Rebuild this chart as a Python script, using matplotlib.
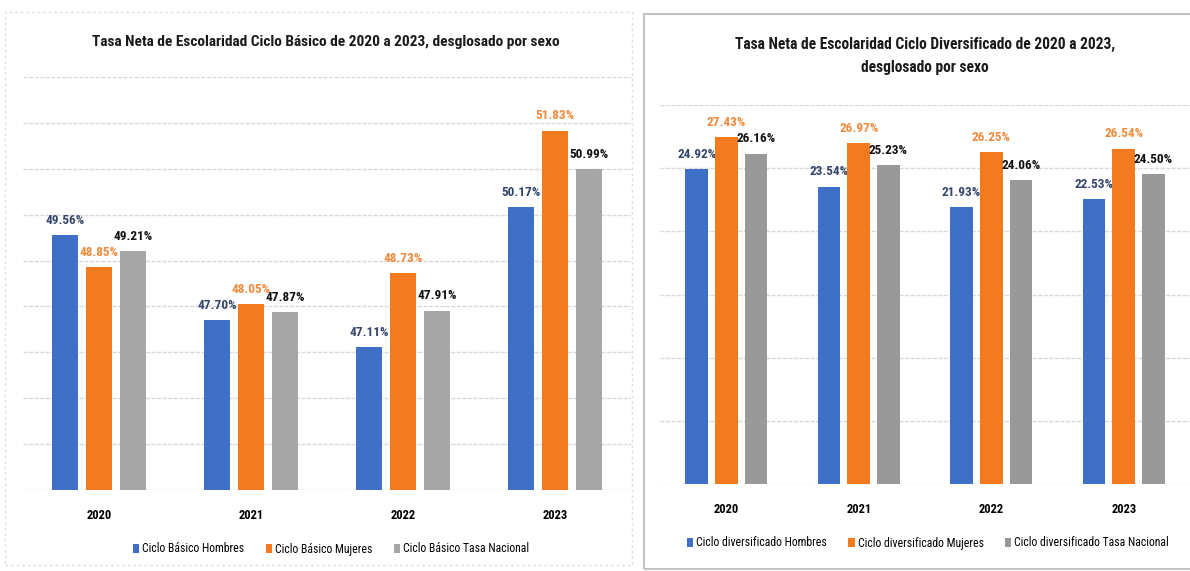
import numpy as np
import matplotlib
matplotlib.use("Agg")
import matplotlib.pyplot as plt
from matplotlib import font_manager
from matplotlib.patches import Rectangle

years = ["2020", "2021", "2022", "2023"]

basico_hombres = [49.56, 47.70, 47.11, 50.17]
basico_mujeres = [48.85, 48.05, 48.73, 51.83]
basico_nacional = [49.21, 47.87, 47.91, 50.99]

div_hombres = [24.92, 23.54, 21.93, 22.53]
div_mujeres = [27.43, 26.97, 26.25, 26.54]
div_nacional = [26.16, 25.23, 24.06, 24.50]

# narrow font if there is one, Lato otherwise
names = set(f.name for f in font_manager.fontManager.ttflist)
fam = "Lato"
for cand in ["Liberation Sans Narrow", "Arial Narrow", "Roboto Condensed", "Open Sans Condensed"]:
    if cand in names:
        fam = cand
        break
plt.rcParams["font.family"] = [fam, "DejaVu Sans"]

BLUE = "#3F6FC6"
ORANGE = "#F47A20"
GRAY_L = "#A6A6A6"
GRAY_R = "#999999"
LBL_BLUE = "#34466B"
LBL_ORANGE = "#F08A3C"

W, H = 1190, 571
fig = plt.figure(figsize=(W / 100, H / 100), dpi=100)
fig.patch.set_facecolor("white")


def px_axes(x0, y0, x1, y1):
    # pixel box (top-left origin) -> figure axes
    return fig.add_axes([x0 / W, 1 - y1 / H, (x1 - x0) / W, (y1 - y0) / H])


def fit_width(t, target):
    r = fig.canvas.get_renderer()
    w = t.get_window_extent(r).width
    t.set_fontsize(t.get_fontsize() * target / w)


def panel(ax, series, colors, lblcolors, ylim, step, legend_names):
    x = np.arange(len(years))
    width = 0.172
    offs = [-0.224, 0, 0.224]
    for vals, c, lc, o, nm in zip(series, colors, lblcolors, offs, legend_names):
        bars = ax.bar(x + o, vals, width, color=c, label=nm, zorder=3)
        for b, v in zip(bars, vals):
            ax.annotate(f"{v:.2f}%", (b.get_x() + b.get_width() / 2, v),
                        xytext=(0, 6), textcoords="offset points",
                        ha="center", va="bottom", fontsize=9.5,
                        fontweight="bold", color=lc)
    ax.set_xlim(-0.5, len(years) - 0.5)
    ax.set_ylim(*ylim)
    ax.set_yticks(np.arange(ylim[0], ylim[1] + 0.01, step))
    ax.set_yticklabels([])
    ax.tick_params(axis="y", length=0)
    ax.tick_params(axis="x", length=0, pad=14)
    ax.set_xticks(x)
    ax.set_xticklabels(years, fontsize=9, fontweight="bold")
    ax.grid(axis="y", color="#D9D9D9", linewidth=1.0, linestyle=(0, (3, 1)), zorder=0)
    for s in ax.spines.values():
        s.set_visible(False)
    ax.set_facecolor("none")


# panel frames
fig.add_artist(Rectangle((5 / W, 1 - 565 / H), 627 / W, 553 / H, transform=fig.transFigure,
                         fill=False, edgecolor="#E0E0E0", linewidth=1.0, linestyle=(0, (2, 2))))
fig.add_artist(Rectangle((644 / W, 1 - 569 / H), 560 / W, 555 / H, transform=fig.transFigure,
                         fill=False, edgecolor="#C4C4C4", linewidth=1.5))

ax1 = px_axes(23, 77, 631, 490)
panel(ax1, [basico_hombres, basico_mujeres, basico_nacional],
      [BLUE, ORANGE, GRAY_L], [LBL_BLUE, LBL_ORANGE, "#111111"], (44, 53), 1,
      ["Ciclo Básico Hombres", "Ciclo Básico Mujeres", "Ciclo Básico Tasa Nacional"])
t1 = fig.text(326 / W, 1 - 42 / H,
              "Tasa Neta de Escolaridad Ciclo Básico de 2020 a 2023, desglosado por sexo",
              ha="center", va="center", fontsize=12, fontweight="bold", color="#1A1A1A")
ax1.legend(loc="center", bbox_to_anchor=(331 / W, 1 - 549 / H), bbox_transform=fig.transFigure,
           ncol=3, frameon=False, fontsize=8.5, handlelength=0.55, handleheight=0.9,
           handletextpad=0.25, columnspacing=1.8)

ax2 = px_axes(660, 105, 1190, 484)
panel(ax2, [div_hombres, div_mujeres, div_nacional],
      [BLUE, ORANGE, GRAY_R], [LBL_BLUE, LBL_ORANGE, "#111111"], (0, 30), 5,
      ["Ciclo diversificado Hombres", "Ciclo diversificado Mujeres",
       "Ciclo diversificado Tasa Nacional"])
t2 = fig.text(925 / W, 1 - 56 / H,
              "Tasa Neta de Escolaridad Ciclo Diversificado de 2020 a 2023,\ndesglosado por sexo",
              ha="center", va="center", fontsize=12, fontweight="bold", color="#1A1A1A",
              linespacing=1.6)
ax2.legend(loc="center", bbox_to_anchor=(928 / W, 1 - 543 / H), bbox_transform=fig.transFigure,
           ncol=3, frameon=False, fontsize=8.5, handlelength=0.55, handleheight=0.9,
           handletextpad=0.25, columnspacing=1.8)

fit_width(t1, 472)
fit_width(t2, 382)

fig.savefig("out.png", dpi=100)
